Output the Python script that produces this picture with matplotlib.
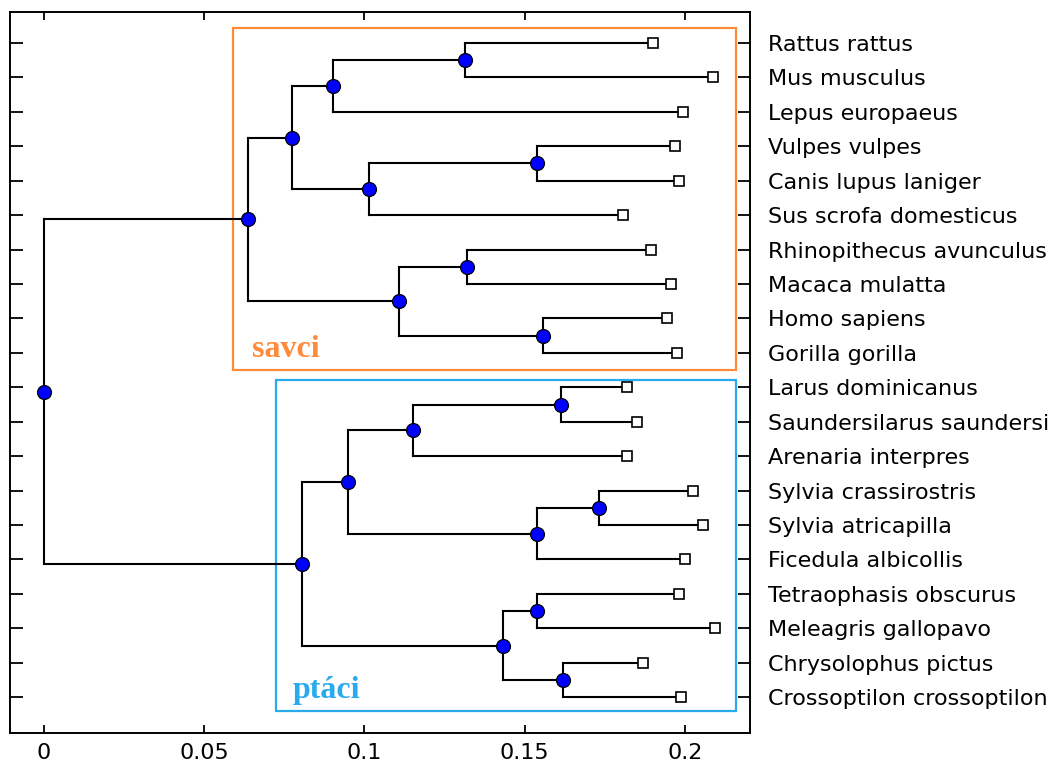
import matplotlib
matplotlib.use("Agg")
import matplotlib.pyplot as plt
from matplotlib.patches import Rectangle

# ---------------- data ----------------
leaf_names = [
    "Rattus rattus", "Mus musculus", "Lepus europaeus", "Vulpes vulpes",
    "Canis lupus laniger", "Sus scrofa domesticus", "Rhinopithecus avunculus",
    "Macaca mulatta", "Homo sapiens", "Gorilla gorilla", "Larus dominicanus",
    "Saundersilarus saundersi", "Arenaria interpres", "Sylvia crassirostris",
    "Sylvia atricapilla", "Ficedula albicollis", "Tetraophasis obscurus",
    "Meleagris gallopavo", "Chrysolophus pictus", "Crossoptilon crossoptilon",
]
leaf_x = [0.1901, 0.2088, 0.1995, 0.1970, 0.1982, 0.1808, 0.1895, 0.1956,
          0.1945, 0.1976, 0.1819, 0.1850, 0.1819, 0.2026, 0.2057, 0.2001,
          0.1982, 0.2094, 0.1870, 0.1988]
# merges: node id = 20 + index; (child_a, child_b)
merge_a = [0, 20, 3, 22, 21, 6, 8, 25, 24, 10, 29, 13, 31, 30, 16, 18, 34, 33, 28]
merge_b = [1, 2, 4, 5, 23, 7, 9, 26, 27, 11, 12, 14, 15, 32, 17, 19, 35, 36, 37]
merge_x = [0.1314, 0.0901, 0.1537, 0.1013, 0.0775, 0.1319, 0.1558, 0.1107,
           0.0637, 0.1613, 0.1150, 0.1732, 0.1537, 0.0949, 0.1537, 0.1618,
           0.1431, 0.0806, 0.0]
x_ticks = [0, 0.05, 0.1, 0.15, 0.2]
x_tick_labels = ["0", "0.05", "0.1", "0.15", "0.2"]
group_labels = ["savci", "ptáci"]

# ---------------- figure ----------------
fig = plt.figure(figsize=(10.62, 7.64), dpi=100)
ax = fig.add_axes([10 / 1062, (764 - 733) / 764, 740 / 1062, 721 / 764])

n = len(leaf_names)
node_x = list(leaf_x)
node_y = [i + 1 for i in range(n)]
for a, b, x in zip(merge_a, merge_b, merge_x):
    node_x.append(x)
    node_y.append((node_y[a] + node_y[b]) / 2)

lc = "black"
lw = 1.5
for k, (a, b, x) in enumerate(zip(merge_a, merge_b, merge_x)):
    ax.plot([x, x], [node_y[a], node_y[b]], color=lc, lw=lw, zorder=2)
    for c in (a, b):
        ax.plot([x, node_x[c]], [node_y[c], node_y[c]], color=lc, lw=lw, zorder=2)

# leaf squares
ax.plot(leaf_x, node_y[:n], linestyle="none", marker="s", ms=6.5,
        mfc="white", mec="black", mew=1.2, zorder=4)
# internal node circles
ax.plot(merge_x, node_y[n:], linestyle="none", marker="o", ms=10,
        mfc="#0000ff", mec="black", mew=0.9, zorder=4)

# group boxes
ax.add_patch(Rectangle((0.0589, 0.564), 0.2158 - 0.0589, 10.49 - 0.564,
                       fill=False, ec="#ff8a3a", lw=1.6, zorder=1))
ax.add_patch(Rectangle((0.0724, 10.80), 0.2158 - 0.0724, 20.39 - 10.80,
                       fill=False, ec="#2aaaee", lw=1.6, zorder=1))
ax.text(0.0649, 10.11, group_labels[0], color="#ff8a3a", fontsize=23,
        fontweight="bold", family="Liberation Serif", ha="left", va="baseline")
ax.text(0.0777, 20.02, group_labels[1], color="#2aaaee", fontsize=23,
        fontweight="bold", family="Liberation Serif", ha="left", va="baseline")

# axes
ax.set_xlim(-0.01061, 0.2203)
ax.set_ylim(21.04, 0.1)
ax.set_xticks(x_ticks)
ax.set_xticklabels(x_tick_labels)
ax.set_yticks(node_y[:n])
ax.set_yticklabels(leaf_names)
ax.tick_params(axis="x", direction="in", top=True, bottom=True, length=6,
               width=1.3, labelsize=16, pad=7)
ax.tick_params(axis="y", direction="in", left=True, right=True, length=9,
               width=1.3, labelleft=False, labelright=True, labelsize=16, pad=13)
for s in ax.spines.values():
    s.set_linewidth(1.4)

fig.savefig("out.png", dpi=100)
